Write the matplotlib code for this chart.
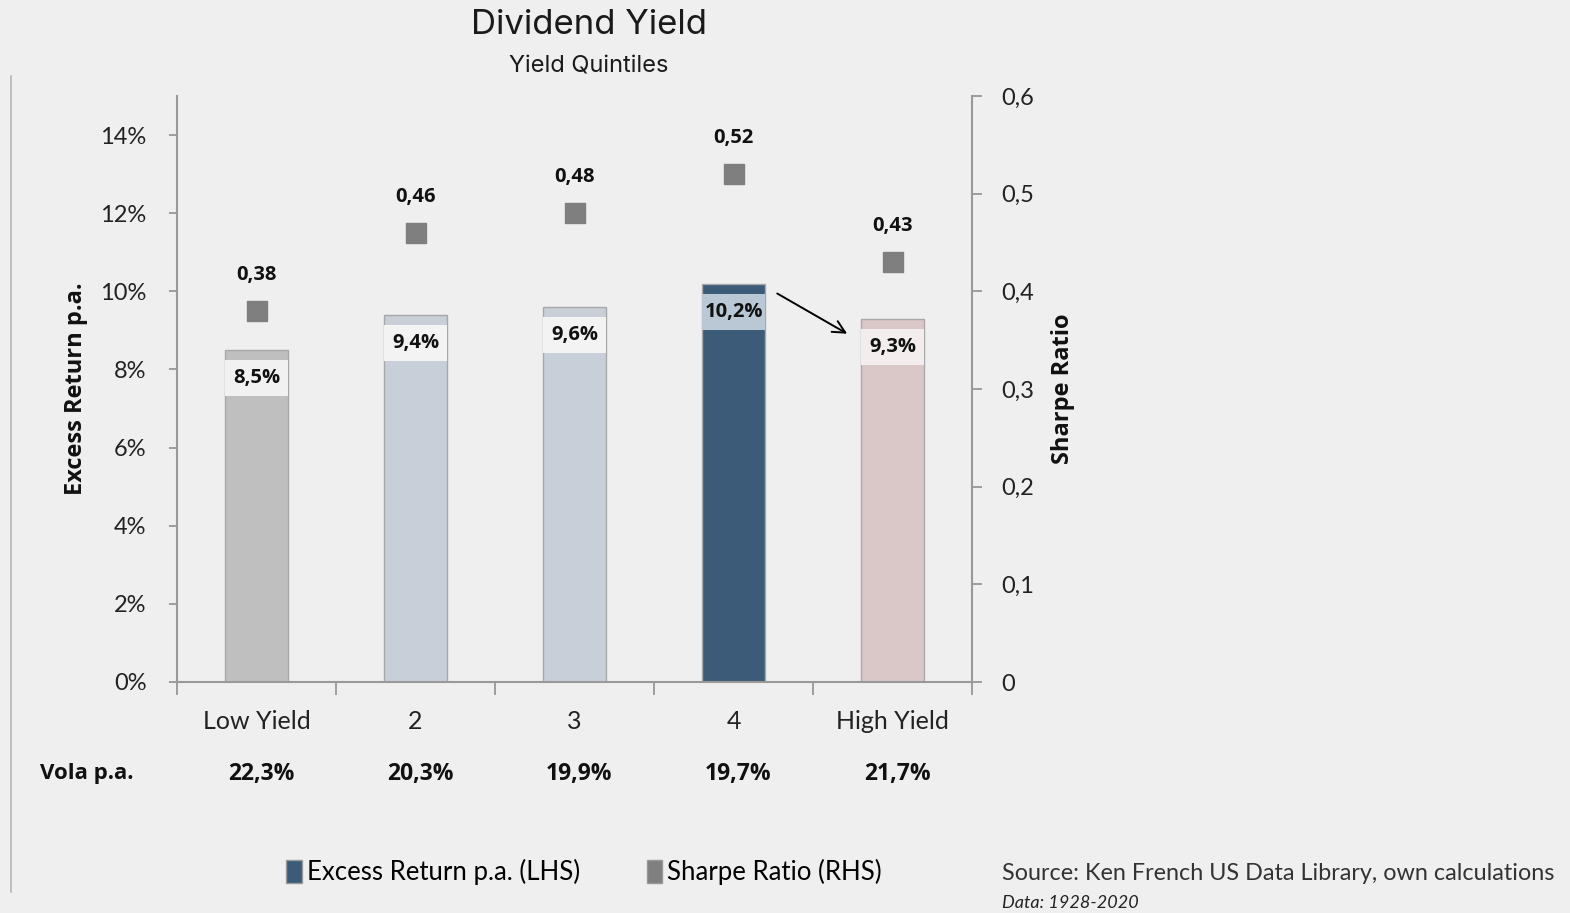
import numpy as np
import matplotlib
matplotlib.use('Agg')
import matplotlib.pyplot as plt
from matplotlib.patches import Patch
from matplotlib.lines import Line2D
import matplotlib.transforms as mtransforms

categorias = ['Low Yield', '2', '3', '4', 'High Yield']
excess_return = [8.5, 9.4, 9.6, 10.2, 9.3]
sharpe = [0.38, 0.46, 0.48, 0.52, 0.43]
vola = ['22,3%', '20,3%', '19,9%', '19,7%', '21,7%']
yticks_esq = [0, 2, 4, 6, 8, 10, 12, 14]
yticks_dir = [0, 0.1, 0.2, 0.3, 0.4, 0.5, 0.6]

cores_barras = ['#bfbfbf', '#c8cfd8', '#c8cfd8', '#3b5b78', '#d9c8c7']
cores_caixas = ['#f1f1f1', '#f3f3f3', '#f3f3f3', '#b9c8d4', '#f3eded']
fundo = '#efefef'

fig = plt.figure(figsize=(15.7, 9.13), dpi=100, facecolor=fundo)
ax = fig.add_axes([177/1570, 1-682/913, 795/1570, 586/913])
ax.set_facecolor(fundo)
x = np.arange(len(categorias))

ax.bar(x, excess_return, width=0.4, color=cores_barras, edgecolor='#a8a8a8', linewidth=1, zorder=2)
# caixinhas dos rotulos dentro das barras
ret = np.array(excess_return)
ax.bar(x, 0.92, bottom=ret - 1.18, width=0.4, color=cores_caixas, linewidth=0, zorder=3)
for i in range(len(x)):
    ax.text(x[i], ret[i] - 0.72, ('%.1f%%' % ret[i]).replace('.', ','), ha='center', va='center',
            fontsize=14.5, fontweight='bold', family='Open Sans', color='#111111', zorder=4)

ax.set_xlim(-0.5, 4.5)
ax.set_ylim(0, 15)
ax.set_yticks(yticks_esq)
ax.set_yticklabels(['%d%%' % v for v in yticks_esq], family='Lato', fontsize=17, color='#222222')
ax.set_xticks(x)
ax.set_xticklabels(categorias, family='Lato', fontsize=18, color='#222222')
ax.set_xticks(np.arange(-0.5, 5, 1), minor=True)
ax.tick_params(axis='x', which='major', length=0, pad=20)
ax.tick_params(axis='x', which='minor', length=9, color='#909090', width=1.2, direction='out')
ax.tick_params(axis='y', length=6, color='#909090', width=1.2, pad=16)

for s in ['top', 'right']:
    ax.spines[s].set_visible(False)
for s in ['left', 'bottom']:
    ax.spines[s].set_color('#999999')
    ax.spines[s].set_linewidth(1.5)

ax.set_ylabel('Excess Return p.a.', family='Open Sans', fontweight='bold', fontsize=17, color='#111111')
ax.yaxis.set_label_coords(-0.112, 0.5)

ax2 = ax.twinx()
ax2.set_ylim(0, 0.6)
ax2.set_yticks(yticks_dir)
ax2.set_yticklabels([('%g' % v).replace('.', ',') for v in yticks_dir], family='Lato', fontsize=17, color='#222222')
ax2.tick_params(axis='y', length=7, color='#909090', width=1.2, pad=14)
for s in ['top', 'left', 'bottom']:
    ax2.spines[s].set_visible(False)
ax2.spines['right'].set_color('#999999')
ax2.spines['right'].set_linewidth(1.5)
ax2.set_ylabel('Sharpe Ratio', family='Open Sans', fontweight='bold', fontsize=17, color='#111111')
ax2.yaxis.set_label_coords(1.099, 0.5)

ax2.scatter(x, sharpe, marker='s', s=200, color='#7f7f7f', zorder=5)
for i in range(len(x)):
    ax2.annotate(('%.2f' % sharpe[i]).replace('.', ','), (x[i], sharpe[i]), xytext=(0, 26),
                 textcoords='offset points', ha='center', va='center',
                 fontsize=14.5, fontweight='bold', family='Open Sans', color='#111111')

ax.annotate('', xy=(3.73, 8.88), xytext=(3.26, 9.98),
            arrowprops=dict(arrowstyle='->', color='black', lw=1.4, mutation_scale=22), zorder=6)

# linha da volatilidade
trans = mtransforms.blended_transform_factory(ax.transData, fig.transFigure)
fig.text(40/1570, 1-774/913, 'Vola p.a.', ha='left', va='center', fontsize=16, fontweight='bold',
         family='Open Sans', color='#111111')
for i in range(len(x)):
    ax.text(x[i] + 0.03, 1-774/913, vola[i], transform=trans, ha='center', va='center',
            fontsize=16.5, fontweight='bold', family='Open Sans', color='#111111')

fig.text(589/1570, 1-25/913, 'Dividend Yield', ha='center', va='center', fontsize=25,
         family='Inter', color='#1a1a1a')
fig.text(589/1570, 1-67/913, 'Yield Quintiles', ha='center', va='center', fontsize=17,
         family='Inter', color='#1a1a1a')

fig.add_artist(Line2D([11/1570, 11/1570], [1-76/913, 1-892/913], color='#b5b5b5', lw=1.2))

handles = [Patch(facecolor='#3b5b78', edgecolor='#999999'), Patch(facecolor='#7f7f7f', edgecolor='#999999')]
fig.legend(handles, ['Excess Return p.a. (LHS)', 'Sharpe Ratio (RHS)'], loc='center',
           bbox_to_anchor=(584/1570, 1-872/913), ncol=2, frameon=False,
           handlelength=0.6, handleheight=1.0, handletextpad=0.2, columnspacing=2.6,
           prop={'family': 'Lato', 'size': 18.5})

fig.text(1002/1570, 1-873/913, 'Source: Ken French US Data Library, own calculations', ha='left',
         va='center', fontsize=16.8, family='Lato', color='#333333')
fig.text(1002/1570, 1-903/913, 'Data: 1928-2020', ha='left', va='center', fontsize=13,
         family='Lato', style='italic', color='#222222')

fig.savefig('out.png', dpi=100, facecolor=fundo)
